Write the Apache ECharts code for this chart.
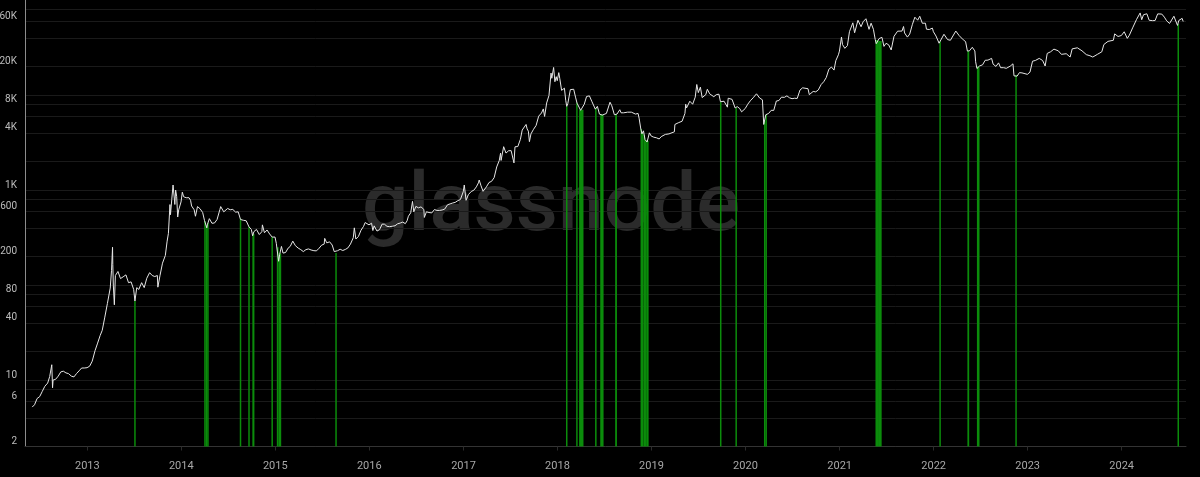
<!DOCTYPE html>
<html>
<head>
<meta charset="utf-8">
<script src="https://cdn.jsdelivr.net/npm/echarts@6/dist/echarts.min.js"></script>
<style>
html,body{margin:0;padding:0;background:#000;}
#chart{width:1200px;height:477px;}
</style>
</head>
<body>
<div id="chart"></div>
<script>
// ---- data ----
const YEAR_TICKS = ['2013-01-01','2014-01-01','2015-01-01','2016-01-01','2017-01-01','2018-01-01','2019-01-01','2020-01-01','2021-01-01','2022-01-01','2023-01-01','2024-01-01'];
const Y_LABELS = [2,6,10,40,80,200,600,1000,4000,8000,20000,60000];
const Y_GRID = [2,4,6,8,10,20,40,60,80,100,200,400,600,800,1000,2000,4000,6000,8000,10000,20000,40000,60000,80000];
const X_RANGE = ['2012-05-04','2024-09-07'];
const Y_RANGE = [2,100000];

const PRICE = [
['2012-06-01',5.2],['2012-06-10',5.5],['2012-06-20',6.4],['2012-06-30',6.7],['2012-07-10',7.6],['2012-07-20',8.6],['2012-07-31',9.3],['2012-08-08',10.9],['2012-08-16',14.5],['2012-08-19',8.3],['2012-08-21',10.0],['2012-08-31',10.2],['2012-09-10',11.0],['2012-09-20',12.2],['2012-09-30',12.4],['2012-10-10',11.9],['2012-10-20',11.7],['2012-10-31',11.0],['2012-11-10',10.8],['2012-11-20',11.7],['2012-11-30',12.5],['2012-12-10',13.4],['2012-12-20',13.4],['2012-12-31',13.5],
['2013-01-10',14.0],['2013-01-20',15.8],['2013-01-31',20.4],['2013-02-10',24.5],['2013-02-20',29.5],['2013-02-28',33.4],['2013-03-10',46],['2013-03-20',64],['2013-03-31',93],['2013-04-05',142],['2013-04-09',250],['2013-04-10',165],['2013-04-12',100],['2013-04-16',62],['2013-04-20',126],['2013-04-30',139],['2013-05-10',117],['2013-05-20',122],['2013-05-31',128],['2013-06-10',106],['2013-06-20',108],['2013-06-30',90],['2013-07-05',68],['2013-07-12',94],['2013-07-20',90],['2013-07-31',106],['2013-08-10',94],['2013-08-20',118],['2013-08-31',135],['2013-09-10',126],['2013-09-20',123],['2013-09-30',126],['2013-10-02',95],['2013-10-10',125],['2013-10-20',170],['2013-10-31',205],['2013-11-07',290],['2013-11-12',350],['2013-11-18',703],['2013-11-20',550],['2013-11-25',800],['2013-11-30',1130],['2013-12-04',1150],['2013-12-07',705],['2013-12-10',1000],['2013-12-14',860],['2013-12-18',520],['2013-12-22',620],['2013-12-31',750],
['2014-01-05',950],['2014-01-10',850],['2014-01-20',830],['2014-01-31',830],['2014-02-06',780],['2014-02-10',680],['2014-02-20',620],['2014-02-25',530],['2014-03-05',670],['2014-03-15',635],['2014-03-25',580],['2014-04-01',480],['2014-04-10',400],['2014-04-12',430],['2014-04-20',500],['2014-04-30',447],['2014-05-10',450],['2014-05-20',490],['2014-05-31',625],['2014-06-03',670],['2014-06-15',590],['2014-06-30',640],['2014-07-10',620],['2014-07-20',625],['2014-07-31',585],['2014-08-10',590],['2014-08-19',490],['2014-08-31',480],['2014-09-10',475],['2014-09-21',410],['2014-09-30',385],['2014-10-05',330],['2014-10-10',365],['2014-10-20',385],['2014-10-31',340],['2014-11-10',365],['2014-11-12',430],['2014-11-20',355],['2014-11-30',380],['2014-12-10',345],['2014-12-20',320],['2014-12-31',320],
['2015-01-05',275],['2015-01-10',275],['2015-01-14',178],['2015-01-18',210],['2015-01-25',255],['2015-01-31',217],['2015-02-10',220],['2015-02-20',245],['2015-02-28',255],['2015-03-10',290],['2015-03-20',260],['2015-03-31',245],['2015-04-10',236],['2015-04-20',225],['2015-04-30',236],['2015-05-10',240],['2015-05-20',234],['2015-05-31',230],['2015-06-10',229],['2015-06-20',244],['2015-06-30',263],['2015-07-10',270],['2015-07-12',310],['2015-07-20',278],['2015-07-31',285],['2015-08-10',264],['2015-08-18',225],['2015-08-25',215],['2015-08-31',230],['2015-09-10',238],['2015-09-20',231],['2015-09-30',237],['2015-10-10',246],['2015-10-20',270],['2015-10-31',315],['2015-11-04',400],['2015-11-10',305],['2015-11-20',325],['2015-11-30',378],['2015-12-10',415],['2015-12-16',455],['2015-12-20',442],['2015-12-31',430],
['2016-01-05',433],['2016-01-10',448],['2016-01-15',375],['2016-01-20',420],['2016-01-31',370],['2016-02-10',383],['2016-02-20',438],['2016-02-29',437],['2016-03-10',415],['2016-03-20',412],['2016-03-31',416],['2016-04-10',421],['2016-04-20',441],['2016-04-30',449],['2016-05-10',460],['2016-05-20',443],['2016-05-27',475],['2016-06-01',530],['2016-06-10',576],['2016-06-17',760],['2016-06-22',590],['2016-06-30',673],['2016-07-10',650],['2016-07-20',665],['2016-07-31',625],['2016-08-02',515],['2016-08-10',590],['2016-08-20',580],['2016-08-31',575],['2016-09-10',623],['2016-09-20',610],['2016-09-30',610],['2016-10-10',617],['2016-10-20',630],['2016-10-31',700],['2016-11-10',715],['2016-11-20',730],['2016-11-30',742],['2016-12-10',773],['2016-12-20',795],['2016-12-31',960],
['2017-01-04',1130],['2017-01-11',780],['2017-01-20',895],['2017-01-31',965],['2017-02-10',995],['2017-02-20',1080],['2017-02-28',1190],['2017-03-03',1275],['2017-03-10',1110],['2017-03-18',970],['2017-03-24',935],['2017-03-31',1080],['2017-04-10',1200],['2017-04-20',1235],['2017-04-30',1350],['2017-05-10',1750],['2017-05-20',2050],['2017-05-25',2450],['2017-05-27',2050],['2017-06-06',2860],['2017-06-11',2960],['2017-06-15',2450],['2017-06-25',2590],['2017-07-05',2600],['2017-07-16',1930],['2017-07-20',2850],['2017-07-31',2870],['2017-08-10',3420],['2017-08-17',4280],['2017-08-22',4080],['2017-09-01',4900],['2017-09-05',4400],['2017-09-10',4160],['2017-09-14',3230],['2017-09-20',3900],['2017-09-30',4360],['2017-10-10',4780],['2017-10-20',5990],['2017-10-31',6470],['2017-11-07',7140],['2017-11-12',5950],['2017-11-20',8250],['2017-11-29',9900],['2017-12-07',17000],['2017-12-10',15000],['2017-12-17',19500],['2017-12-22',13800],['2017-12-27',15600],['2017-12-31',14150],
['2018-01-06',17200],['2018-01-10',14900],['2018-01-17',11200],['2018-01-28',11800],['2018-02-02',8800],['2018-02-06',7600],['2018-02-10',8100],['2018-02-20',11400],['2018-03-05',11500],['2018-03-12',9500],['2018-03-18',8200],['2018-03-25',8500],['2018-04-01',6900],['2018-04-06',6600],['2018-04-15',8000],['2018-04-24',9650],['2018-05-05',9800],['2018-05-15',8500],['2018-05-28',7100],['2018-06-05',7600],['2018-06-13',6300],['2018-06-24',6150],['2018-06-30',6400],['2018-07-10',6400],['2018-07-24',8400],['2018-07-31',7700],['2018-08-10',6200],['2018-08-14',6200],['2018-08-20',6300],['2018-08-31',7000],['2018-09-05',6500],['2018-09-15',6500],['2018-09-30',6600],['2018-10-15',6600],['2018-10-31',6300],['2018-11-10',6400],['2018-11-14',5700],['2018-11-20',4500],['2018-11-25',3900],['2018-12-01',4200],['2018-12-07',3400],['2018-12-15',3200],['2018-12-24',4000],['2018-12-31',3700],
['2019-01-10',3600],['2019-01-20',3550],['2019-01-31',3450],['2019-02-08',3650],['2019-02-24',3850],['2019-03-10',3900],['2019-03-31',4100],['2019-04-02',4900],['2019-04-15',5100],['2019-04-30',5300],['2019-05-11',6400],['2019-05-14',8000],['2019-05-17',7300],['2019-05-30',8600],['2019-06-10',8000],['2019-06-20',9500],['2019-06-26',12900],['2019-07-02',10600],['2019-07-10',12100],['2019-07-17',9400],['2019-07-31',10100],['2019-08-06',11500],['2019-08-15',10300],['2019-08-31',9600],['2019-09-10',10100],['2019-09-20',10200],['2019-09-26',8500],['2019-09-30',8300],['2019-10-10',8600],['2019-10-23',7450],['2019-10-26',9250],['2019-11-10',9000],['2019-11-22',7300],['2019-11-30',7550],['2019-12-10',7200],['2019-12-17',6650],['2019-12-31',7200],
['2020-01-10',8000],['2020-01-20',8700],['2020-01-31',9350],['2020-02-13',10300],['2020-02-25',9300],['2020-03-07',8900],['2020-03-12',4900],['2020-03-20',6200],['2020-03-31',6400],['2020-04-10',6900],['2020-04-20',6900],['2020-04-30',8650],['2020-05-10',8750],['2020-05-20',9500],['2020-05-31',9450],['2020-06-10',9800],['2020-06-20',9350],['2020-06-30',9150],['2020-07-10',9250],['2020-07-20',9200],['2020-07-31',11300],['2020-08-10',11900],['2020-08-17',12250],['2020-08-31',11650],['2020-09-05',10100],['2020-09-20',10900],['2020-09-30',10800],['2020-10-10',11300],['2020-10-21',12900],['2020-10-31',13800],['2020-11-10',15300],['2020-11-20',18700],['2020-11-30',19700],['2020-12-10',18300],['2020-12-17',23000],['2020-12-27',26500],['2020-12-31',29000],
['2021-01-08',40800],['2021-01-12',34000],['2021-01-21',31000],['2021-01-31',33100],['2021-02-08',46400],['2021-02-15',47900],['2021-02-21',57500],['2021-02-28',45200],['2021-03-13',61200],['2021-03-25',52300],['2021-04-02',59000],['2021-04-13',63500],['2021-04-25',49100],['2021-05-03',57000],['2021-05-10',55800],['2021-05-12',49200],['2021-05-19',38500],['2021-05-23',34700],['2021-06-03',39200],['2021-06-14',40500],['2021-06-22',32500],['2021-06-30',35000],['2021-07-10',33800],['2021-07-20',29800],['2021-07-31',41500],['2021-08-14',47000],['2021-08-31',47100],['2021-09-06',52600],['2021-09-10',45000],['2021-09-21',40700],['2021-09-30',43800],['2021-10-10',54900],['2021-10-20',65900],['2021-10-31',61300],['2021-11-08',67500],['2021-11-10',64900],['2021-11-18',56900],['2021-11-30',57000],['2021-12-04',49300],['2021-12-15',48900],['2021-12-27',50600],['2021-12-31',46300],
['2022-01-10',41800],['2022-01-22',35100],['2022-01-26',36800],['2022-02-10',43600],['2022-02-24',38300],['2022-03-07',37700],['2022-03-28',47100],['2022-04-10',42200],['2022-04-26',38100],['2022-05-05',36500],['2022-05-12',29000],['2022-05-20',29200],['2022-05-31',31800],['2022-06-10',29100],['2022-06-13',22400],['2022-06-18',19000],['2022-06-28',20200],['2022-07-10',20800],['2022-07-20',23200],['2022-07-31',23300],['2022-08-14',24300],['2022-08-20',21100],['2022-08-31',20000],['2022-09-10',21800],['2022-09-18',19400],['2022-09-30',19400],['2022-10-10',19100],['2022-10-25',20100],['2022-11-05',21300],['2022-11-09',15900],['2022-11-21',15800],['2022-11-30',17200],['2022-12-10',17100],['2022-12-31',16500],
['2023-01-10',17400],['2023-01-20',22700],['2023-01-31',23100],['2023-02-15',24300],['2023-02-28',23100],['2023-03-10',20200],['2023-03-18',27400],['2023-03-31',28500],['2023-04-13',30400],['2023-04-30',29200],['2023-05-12',26800],['2023-05-31',27200],['2023-06-15',25100],['2023-06-23',30600],['2023-07-13',31400],['2023-07-31',29200],['2023-08-17',26600],['2023-08-31',25900],['2023-09-11',25100],['2023-09-30',26900],['2023-10-16',28500],['2023-10-24',34000],['2023-11-09',36700],['2023-11-30',37700],['2023-12-05',44000],['2023-12-18',41300],['2023-12-31',42300],
['2024-01-11',46300],['2024-01-23',39500],['2024-01-31',42600],['2024-02-14',51800],['2024-02-28',62500],['2024-03-05',63800],['2024-03-13',73100],['2024-03-19',62000],['2024-03-26',70000],['2024-04-08',71600],['2024-04-17',61200],['2024-04-30',60600],['2024-05-10',60800],['2024-05-20',71400],['2024-06-05',71100],['2024-06-15',66000],['2024-06-24',60300],['2024-07-05',56600],['2024-07-12',57900],['2024-07-22',67500],['2024-07-29',66800],['2024-08-05',54000],['2024-08-10',60900],['2024-08-16',58900],['2024-08-23',64100],['2024-08-27',59400]
];

// green segments: [start, end, price at top]
const GREEN = [
['2013-07-04','2013-07-06',68],
['2014-03-31','2014-04-06',470],['2014-04-06','2014-04-12',420],['2014-04-12','2014-04-17',450],
['2014-08-18','2014-08-20',500],
['2014-09-20','2014-09-22',410],
['2014-10-04','2014-10-12',345],
['2014-12-19','2014-12-21',320],
['2015-01-07','2015-01-14',250],['2015-01-14','2015-01-24',215],
['2015-08-24','2015-08-26',218],
['2018-02-05','2018-02-07',7600],
['2018-03-15','2018-03-20',8300],
['2018-03-26','2018-04-12',7000],
['2018-05-27','2018-06-02',7300],
['2018-06-16','2018-06-29',6250],
['2018-08-13','2018-08-20',6250],
['2018-11-20','2018-11-25',4400],['2018-11-25','2018-12-01',4000],['2018-12-01','2018-12-07',3800],['2018-12-07','2018-12-14',3350],['2018-12-14','2018-12-21',3300],
['2019-09-26','2019-09-28',8450],
['2019-11-25','2019-11-27',7350],
['2020-03-13','2020-03-19',5300],['2020-03-19','2020-03-24',6200],
['2021-05-20','2021-05-30',38000],['2021-05-30','2021-06-13',37000],
['2022-01-25','2022-01-27',36500],
['2022-05-12','2022-05-19',29100],
['2022-06-18','2022-06-28',20000],
['2022-11-16','2022-11-18',16200],
['2024-08-07','2024-08-09',56000]
];

// ---- chart ----
const T = s => Date.parse(s + 'T00:00:00Z');
const chart = echarts.init(document.getElementById('chart'), null, {renderer:'canvas'});
const fmtY = v => v >= 1000 ? (v/1000) + 'K' : String(v);

chart.setOption({
  backgroundColor: '#000',
  animation: false,
  graphic: [{
    type: 'text', left: 362, top: 168, z: -10, silent: true,
    style: { text: 'glassnode', fill: '#2b2b2b', font: '500 82px Roboto' }
  }],
  grid: { left: 25, right: 14, top: 0, bottom: 30.5, containLabel: false, outerBoundsMode: 'none' },
  xAxis: {
    type: 'value',
    min: T(X_RANGE[0]), max: T(X_RANGE[1]),
    axisLine: { show: true, lineStyle: { color: '#333', width: 1 } },
    axisTick: { show: true, length: 4, lineStyle: { color: '#2a2a2a' }, customValues: YEAR_TICKS.map(T) },
    axisLabel: { color: '#a8a8a8', fontSize: 11, margin: 14, fontFamily: 'Roboto',
      customValues: YEAR_TICKS.map(T),
      formatter: v => String(new Date(v).getUTCFullYear()) },
    splitLine: { show: false }
  },
  yAxis: {
    type: 'log', logBase: 10, min: Y_RANGE[0], max: Y_RANGE[1],
    axisLine: { show: true, lineStyle: { color: '#8c8c8c', width: 1 } },
    axisTick: { show: false, customValues: Y_GRID },
    axisLabel: { color: '#bdbdbd', fontSize: 10, margin: 8, fontFamily: 'Roboto',
      verticalAlign: 'bottom', customValues: Y_LABELS, formatter: fmtY },
    splitLine: { show: true, lineStyle: { color: '#1a1a1a', width: 1 } }
  },
  series: [
    {
      type: 'custom', z: 2,
      data: GREEN.map(g => [T(g[0]), T(g[1]), g[2]]),
      encode: { x: [0, 1], y: 2 },
      renderItem: (params, api) => {
        const p1 = api.coord([api.value(0), api.value(2)]);
        const p2 = api.coord([api.value(1), api.value(2)]);
        const yb = api.coord([api.value(0), Y_RANGE[0]])[1];
        let x = p1[0], w = p2[0] - p1[0];
        if (w < 1.5) { x = (p1[0] + p2[0]) / 2 - 0.75; w = 1.5; }
        return { type: 'rect', shape: { x: x, y: p1[1], width: w, height: yb - p1[1] },
                 style: { fill: '#0b8c0b' } };
      }
    },
    {
      type: 'line', z: 3, showSymbol: false, symbol: 'none',
      data: PRICE.map(p => [T(p[0]), p[1]]),
      lineStyle: { color: '#e6e6e6', width: 1 }
    }
  ]
});
</script>
</body>
</html>
